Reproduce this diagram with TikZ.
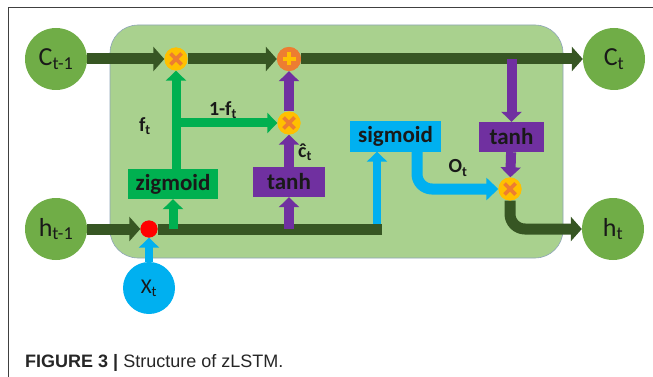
\documentclass[tikz,border=0pt]{standalone}
\usepackage{fontspec}
\usepackage{amsmath}
\setmainfont{Carlito}
\newfontfamily\capfont{Liberation Sans}
\usetikzlibrary{arrows.meta}
\definecolor{cellfill}{HTML}{A9D18E}
\definecolor{cellline}{HTML}{8EA4B8}
\definecolor{stategreen}{HTML}{70AD47}
\definecolor{darkline}{HTML}{375623}
\definecolor{brightgreen}{HTML}{00B050}
\definecolor{purplec}{HTML}{7030A0}
\definecolor{cyanc}{HTML}{00B0F0}
\definecolor{opyellow}{HTML}{FFC000}
\definecolor{oporange}{HTML}{ED7D31}
\begin{document}
\begin{tikzpicture}[x=1pt,y=-1pt,
  state/.style={circle, fill=stategreen, minimum size=62pt, inner sep=0pt, font=\fontsize{26}{26}\selectfont, text=black!90},
  mulop/.style={circle, fill=opyellow, minimum size=23pt, inner sep=0pt,
    path picture={\draw[oporange, line width=3.8pt]
      ([shift={(-5.5pt,-5.5pt)}]path picture bounding box.center) -- ([shift={(5.5pt,5.5pt)}]path picture bounding box.center)
      ([shift={(-5.5pt,5.5pt)}]path picture bounding box.center) -- ([shift={(5.5pt,-5.5pt)}]path picture bounding box.center);}},
  addop/.style={circle, fill=oporange, minimum size=24pt, inner sep=0pt,
    path picture={\draw[opyellow, line width=3.6pt]
      ([shift={(-6.5pt,0pt)}]path picture bounding box.center) -- ([shift={(6.5pt,0pt)}]path picture bounding box.center)
      ([shift={(0pt,-6.5pt)}]path picture bounding box.center) -- ([shift={(0pt,6.5pt)}]path picture bounding box.center);}},
  gate/.style={rectangle, inner sep=0pt, minimum height=30pt, font=\bfseries\fontsize{23}{23}\selectfont, text=black!90},
  lab/.style={inner sep=0pt, font=\bfseries\fontsize{20}{20}\selectfont, text=black!90},
  dk/.style={line width=11pt, draw=darkline},
  gr/.style={line width=9pt, draw=brightgreen},
  pu/.style={line width=10pt, draw=purplec},
  cy/.style={line width=8pt, draw=cyanc},
  bigtip/.style={-{Triangle[length=11pt,width=24pt]}},
  midtip/.style={-{Triangle[length=10pt,width=20pt]}}
]
\useasboundingbox (0,0) rectangle (653,377);
\draw[line width=1pt, draw=black!75] (8,377) -- (8,8) -- (653,8);
\draw[fill=cellfill, draw=cellline, line width=0.6pt, rounded corners=28pt] (110,25) rectangle (563,258);

% states
\node[state] (cprev) at (56,59) {C$_{\text{t-1}}$};
\node[state] (cnext) at (614,59) {C$_{\text{t}}$};
\node[state] (hprev) at (56,229) {h$_{\text{t-1}}$};
\node[state] (hnext) at (613,229) {h$_{\text{t}}$};
\node[state, fill=cyanc, minimum size=52pt, font=\fontsize{21}{21}\selectfont] (xt) at (149,288) {X$_{\text{t}}$};

% operators
\node[mulop] (m1) at (176,59) {};
\node[addop] (a1) at (289,59) {};
\node[mulop] (m2) at (289,123) {};
\node[mulop] (m3) at (510,189) {};
\node[circle, fill=red, minimum size=17pt, inner sep=0pt] (dot) at (149,229) {};

% gates
\node[gate, fill=brightgreen, minimum width=90pt] (zig) at (173,184) {zigmoid};
\node[gate, fill=purplec, minimum width=72pt] (tanh1) at (289,182) {tanh};
\node[gate, fill=cyanc, minimum width=91pt] (sig) at (395.5,136.5) {sigmoid};
\node[gate, fill=purplec, minimum width=65pt] (tanh2) at (511.5,137) {tanh};

% junction coordinates
\coordinate (fj) at (m1 |- m2);
\coordinate (zigin) at (m1 |- zig.north);
\coordinate (lineend) at (382,229);
\coordinate (sigtap) at (377,224);
\coordinate (sigin) at (sigtap |- sig.south);
\coordinate (tap) at (tanh2.north |- cnext);
\coordinate (otout) at ([xshift=21.5pt]sig.south);
\coordinate (otbend) at (otout |- m3);
\coordinate (htbend) at (m3 |- hnext);

% cell state line
\draw[dk, bigtip] (cprev) -- (m1);
\draw[dk, bigtip] (m1) -- (a1);
\draw[dk, bigtip] (a1) -- (cnext);

% hidden line
\draw[dk, bigtip] (hprev) -- (dot);
\draw[dk] (dot) -- (lineend);

% forget path
\draw[gr, midtip] (zigin) -- (m1);
\draw[gr, midtip] (fj) -- (m2);
\draw[gr, midtip] (zig.south |- dot) -- (zig.south);

% candidate path
\draw[pu, midtip] (tanh1.south |- dot) -- (tanh1.south);
\draw[pu, midtip] (tanh1) -- (m2);
\draw[pu, midtip] (m2) -- (a1);

% output path
\draw[cy, midtip] (xt) -- (dot);
\draw[cy, midtip] (sigtap) -- (sigin);
\draw[line width=11pt, draw=cyanc, rounded corners=15pt, -{Triangle[length=12pt,width=22pt]}] (otout) -- (otbend) -- (m3);
\draw[pu, midtip] (tap) -- (tanh2.north);
\draw[pu, midtip] (tanh2) -- (m3);
\draw[dk, rounded corners=15pt, bigtip] (m3) -- (htbend) -- (hnext);

% redraw operators on top
\node[mulop] at (m1) {};
\node[addop] at (a1) {};
\node[mulop] at (m2) {};
\node[mulop] at (m3) {};
\node[circle, fill=red, minimum size=17pt, inner sep=0pt] at (dot) {};

% labels
\node[lab] (lf) at (145,126) {f$_{\text{t}}$};
\node[lab] (l1f) at (223,110) {1-f$_{\text{t}}$};
\node[lab] (lc) at (305,152) {\^{c}$_{\text{t}}$};
\node[lab] (lo) at (458,168) {O$_{\text{t}}$};

% caption
\node[anchor=base west, inner sep=0pt, text=black!85, font=\capfont\fontsize{18}{18}\selectfont] (cap) at (25,367) {\textbf{FIGURE 3 |} Structure of zLSTM.};
\end{tikzpicture}
\end{document}
